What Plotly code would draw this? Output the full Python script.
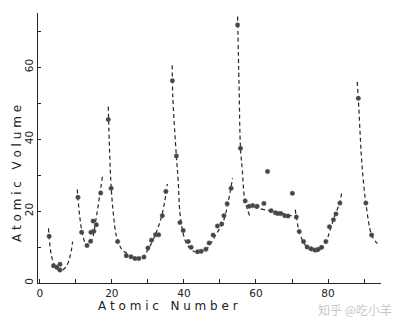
import plotly.graph_objects as go

# ---- data ----
atomic_number = [2.6, 3.8, 4.7, 5.6, 5.6, 10.6, 11.6, 13.1, 14.1, 14.2, 15.0, 14.8, 15.7, 16.9,
                 19.0, 19.8, 21.6, 24.0, 25.3, 26.4, 27.5, 28.9, 30.0, 31.0, 32.1, 33.0, 34.0, 35.0,
                 36.8, 37.9, 38.9, 39.8, 41.2, 42.0, 43.8, 44.8, 46.1, 47.0, 48.1, 49.3, 50.5, 51.1,
                 52.0, 53.1, 54.9, 55.7, 57.0, 58.1, 59.1, 60.3, 62.2, 63.2, 64.2, 65.4, 66.1, 66.9,
                 68.0, 68.9, 70.1, 71.2, 72.0, 73.2, 74.2, 75.3, 76.3, 77.3, 78.2, 79.4, 80.4, 81.5,
                 82.2, 83.3, 88.4, 90.5, 92.1]
atomic_volume = [13.0, 4.8, 4.4, 5.2, 3.6, 23.8, 14.1, 10.4, 11.6, 14.1, 14.4, 17.2, 16.2, 25.0,
                 45.4, 26.3, 11.5, 7.6, 7.3, 6.8, 6.8, 7.2, 9.7, 11.9, 13.4, 13.4, 18.7, 25.4,
                 56.2, 35.3, 16.8, 14.6, 11.5, 9.9, 8.7, 8.8, 9.4, 11.1, 13.3, 15.8, 16.4, 18.7,
                 22.0, 26.3, 71.7, 37.4, 22.8, 21.3, 21.5, 21.3, 22.1, 31.0, 20.1, 19.5, 19.3, 19.3,
                 18.7, 18.6, 24.9, 18.3, 14.3, 11.5, 10.0, 9.5, 9.2, 9.4, 9.9, 11.5, 15.6, 17.6,
                 19.2, 22.2, 51.3, 22.2, 13.3]

# hand-drawn dashed trend curves (control points)
curve_x = [
    [2.4, 3.2, 4.2, 5.6, 7.4, 8.5, 9.1],
    [10.4, 11.1, 12.0, 13.1, 14.4, 15.7, 16.7, 17.4],
    [19.0, 19.7, 20.4, 21.3, 22.7, 24.5, 26.4, 28.3, 30.0, 31.9, 33.9, 35.4],
    [36.75, 36.9, 37.9, 38.4, 38.9, 39.8, 40.7, 42.1, 44.0, 45.8, 47.2, 49.1, 50.9, 52.3, 53.5],
    [54.9, 55.3, 55.7, 56.2, 56.9, 57.7, 58.3],
    [57.5, 64.0, 70.8],
    [70.9, 71.2, 72.0, 73.2, 74.5, 76.3, 78.0, 79.4, 80.5, 82.0, 83.3, 83.8],
    [88.1, 88.4, 88.9, 89.4, 90.5, 92.1, 93.2, 94.3],
]
curve_y = [
    [15.2, 7.8, 4.7, 3.3, 4.7, 7.8, 11.5],
    [26.0, 18.4, 12.9, 10.3, 11.9, 18.4, 24.9, 29.7],
    [49.0, 28.6, 19.4, 12.9, 9.4, 8.0, 6.7, 6.9, 9.2, 13.0, 18.9, 27.5],
    [60.5, 52.0, 35.3, 28.6, 19.4, 13.8, 11.0, 9.2, 8.4, 9.0, 10.6, 13.8, 17.0, 22.6, 29.1],
    [74.0, 55.0, 37.4, 31.4, 23.0, 20.3, 18.5],
    [21.4, 20.0, 18.5],
    [20.4, 18.3, 14.3, 11.3, 9.6, 8.7, 9.3, 11.2, 14.5, 19.0, 22.5, 25.4],
    [55.9, 51.3, 41.6, 33.2, 22.1, 13.3, 11.5, 10.5],
]

x_ticks = [0, 10, 20, 30, 40, 50, 60, 70, 80, 90]
x_tick_text = ["0", "", "20", "", "40", "", "60", "", "80", ""]
y_ticks = [0, 10, 20, 30, 40, 50, 60, 70]
y_tick_text = ["0", "", "20", "", "40", "", "60", ""]

ink = "#262626"
fig = go.Figure()
for cx, cy in zip(curve_x, curve_y):
    fig.add_trace(go.Scatter(x=cx, y=cy, mode="lines", line_shape="spline",
                             line=dict(color=ink, width=1.2, dash="4px,3px"),
                             hoverinfo="skip", showlegend=False))
fig.add_trace(go.Scatter(x=atomic_number, y=atomic_volume, mode="markers",
                         marker=dict(color="#444", size=4.5,
                                     line=dict(color="#666", width=0.5)),
                         showlegend=False))

fig.update_layout(
    width=400, height=319,
    margin=dict(l=38, r=19, t=13, b=36),
    paper_bgcolor="white", plot_bgcolor="white",
    font=dict(family="DejaVu Sans, Arial, sans-serif", color="#222", size=11),
    xaxis=dict(range=[-0.5, 94.7], tickvals=x_ticks, ticktext=x_tick_text,
               ticks="inside", ticklen=4, tickcolor=ink, showgrid=False, zeroline=False,
               showline=True, linecolor=ink, linewidth=1.2, tickfont=dict(size=10.5)),
    yaxis=dict(range=[0, 75], tickvals=y_ticks, ticktext=y_tick_text,
               ticks="inside", ticklen=3, tickcolor=ink, tickangle=-90,
               showgrid=False, zeroline=False, tickfont=dict(size=10.5),
               showline=True, linecolor=ink, linewidth=1.2),
    annotations=[
        dict(text="A t o m i c   N u m b e r", xref="paper", yref="paper",
             x=(168 - 38) / 343, y=-(306 - 283) / 270, showarrow=False,
             font=dict(size=12, color="#222"), xanchor="center", yanchor="middle"),
        dict(text="A t o m i c   V o l u m e", xref="paper", yref="paper",
             x=-(38 - 17) / 343, y=(283 - 174) / 270, showarrow=False, textangle=-90,
             font=dict(size=12, color="#222"), xanchor="center", yanchor="middle"),
        dict(text="知乎 @吃小羊", xref="paper", yref="paper",
             x=(355 - 38) / 343, y=-(309 - 283) / 270, showarrow=False,
             font=dict(size=12, color="#c8c8c8", family="Noto Sans CJK SC"),
             xanchor="center", yanchor="middle"),
    ],
)

fig.write_html("out.html")
